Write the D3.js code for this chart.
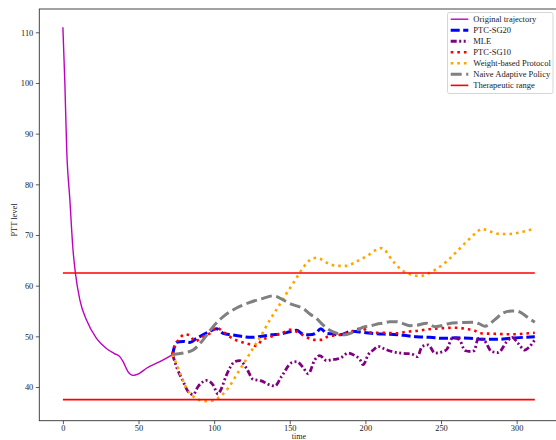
<!DOCTYPE html>
<html>
<head>
<meta charset="utf-8">
<script src="https://cdn.jsdelivr.net/npm/d3@7"></script>
<style>
  html, body { margin: 0; padding: 0; background: #fff; }
  svg { display: block; }
  text { font-family: "Liberation Serif", "DejaVu Serif", serif; fill: #222; }
</style>
</head>
<body>
<svg id="chart" width="556" height="440"></svg>
<script>
// PTT level over time: original trajectory, then each dosing policy from t≈72
const originalTrajectory = [[0,111],[1.3,100],[2.5,87],[4.6,77],[6.7,67],[8.3,62.4],[11.2,57.2],[15.6,53.2],[22.2,49.6],[28.8,47.6],[34,46.6],[37.6,46.0],[39.8,45.0],[43.1,43.0],[46.4,42.3],[50,42.6],[55.3,43.7],[64.1,45],[72.5,46.4]];

const ptcSg20 = [[72.5,46.4],[75,48.8],[79.5,49.0],[83.9,48.8],[88.4,49.6],[92,50.2],[96,50.8],[101.6,51.5],[106,50.6],[111.5,50.3],[118,50.0],[124.7,49.8],[131.3,50.0],[138,50.3],[144.6,50.5],[150,50.9],[154.5,51.2],[158.9,50.4],[163,50.3],[167,50.6],[170.5,51.5],[174.3,50.6],[178,50.5],[183.1,50.3],[190.9,51.0],[198.5,50.8],[207.4,50.5],[216.2,50.4],[225,50.2],[233.9,49.9],[242.7,49.8],[251.5,49.6],[260.3,49.7],[269.1,49.6],[277.9,49.4],[286.8,49.4],[295.6,49.6],[304.4,49.8],[312,49.9]];

const mle = [[72.5,46.4],[75.1,44],[79.5,41.1],[82.8,39.1],[86.1,38.5],[89.4,40.1],[92.5,41.0],[95,41.3],[99.3,40.4],[102.6,38.6],[104.5,39.5],[108.2,42.4],[113.7,45.0],[117,45.2],[121.4,43.7],[125.8,41.5],[131.3,41.2],[136.8,40.4],[140.1,40.2],[144.6,42.1],[151.2,44.8],[154.5,45.0],[158.9,43.8],[162.2,42.6],[166.6,45.4],[169.9,46.2],[174.3,45.2],[178,45.4],[181,45.5],[184,45.8],[188.6,46.7],[193,46.2],[196.4,45.4],[198.5,44.4],[201.9,46.4],[205.2,47.3],[208.5,48.0],[212,47.6],[216.2,47.1],[220.6,46.8],[227.2,46.6],[230.6,46.5],[234.4,46.0],[237.5,48.0],[241.5,48.3],[246,46.7],[251.5,47.0],[254,47.5],[257.5,49.7],[262,49.4],[265.8,47.2],[270,47.0],[272,47.2],[274.6,49.6],[278.5,49.2],[283.5,47.0],[287.8,46.8],[293.4,48.9],[297,49.8],[301,48.6],[305.5,47.3],[308,47.8],[312,49.3]];

const ptcSg10 = [[72.5,46.4],[74,48],[77.3,49.6],[80.5,50.4],[84,50.2],[87.2,49.0],[90,49.4],[93,50.0],[97.2,50.6],[101.6,51.7],[106,50.9],[110,50.0],[114.8,49.2],[119,48.8],[123.6,48.4],[128,48.1],[131.3,49.2],[136,49.8],[141.3,50.3],[146,50.8],[150,51.3],[156.7,50.6],[160,50.0],[166.6,49.3],[171,49.3],[175.4,50.0],[183.1,50.3],[190.9,50.9],[197.5,51.6],[204.1,50.7],[211.8,50.7],[220.6,50.6],[227.2,50.9],[234.9,51.1],[241.5,51.4],[250.4,51.6],[259.2,51.7],[268,51.4],[272.4,51.1],[275.7,50.6],[285.6,50.5],[296.7,50.4],[307.7,50.6],[312,50.7]];

const weightBased = [[72.5,46.4],[76.2,43.7],[80.6,40.4],[83.9,38.8],[88.4,37.7],[93.8,37.2],[99.3,37.3],[103.8,38.1],[109.3,39.8],[114.8,42.4],[120.3,45.0],[125.8,47.7],[131.3,50.3],[136.8,53.2],[142.3,55.8],[147.9,58.5],[152.3,60.5],[156.7,62.6],[161.1,64.4],[164.5,65.3],[167.5,65.5],[170,65.3],[175.4,64.4],[181,63.9],[187.6,63.9],[194.2,64.8],[200.8,65.8],[207.4,67.1],[210.5,67.4],[213,67.0],[215.1,66.1],[219.5,64.4],[225,62.9],[231.6,62.1],[236,61.9],[241.5,62.4],[247.1,63.3],[253.7,64.8],[260.3,66.7],[266.9,68.7],[273.5,70.5],[276.8,71.2],[282.3,70.7],[289,70.2],[295.6,70.2],[302.2,70.5],[309.9,71.1],[312,71.3]];

const naiveAdaptive = [[72.5,46.4],[79.5,46.7],[86.1,47.3],[92.7,49.3],[99.3,51.9],[106,53.9],[114.8,55.6],[123.6,56.7],[132.4,57.5],[139,58.0],[145.6,57.2],[150,56.5],[154.5,56.0],[158.9,55.5],[163.3,54.4],[167.7,53.5],[172.1,52.2],[176.5,51.2],[181,50.6],[186.4,50.3],[190,50.6],[194.2,51.1],[198.5,51.8],[203,52.0],[207.4,52.4],[211.8,52.6],[216.2,52.9],[220.6,52.9],[224,52.6],[229.4,52.1],[234,52.2],[240.5,52.6],[246,51.9],[250,52.1],[254.8,52.5],[263.6,52.7],[271.3,52.8],[275,52.5],[279,52.0],[285.6,53.3],[291.1,54.6],[296.7,55.0],[300,55.0],[303.3,54.6],[307,53.8],[312,52.8]];

const rangeLow = [[0,37.5],[312,37.5]];
const rangeHigh = [[0,62.5],[312,62.5]];

const xTicks = [0, 50, 100, 150, 200, 250, 300];
const yTicks = [40, 50, 60, 70, 80, 90, 100, 110];

const seriesNames = ["Original trajectory", "PTC-SG20", "MLE", "PTC-SG10", "Weight-based Protocol", "Naive Adaptive Policy", "Therapeutic range"];

// styling for each series, in drawing / legend order
const styles = [
  { color: "#bf00bf", width: 1.4, dash: null },
  { color: "#0000ff", width: 3, dash: "9,3.5" },
  { color: "#800080", width: 2.8, dash: "6,2.5,2,2.5,2,2.5" },
  { color: "#ff0000", width: 2.6, dash: "2.6,4" },
  { color: "#ffa500", width: 2.6, dash: "2.6,4" },
  { color: "#808080", width: 3, dash: "11,4.5" },
  { color: "#ff0000", width: 1.6, dash: null }
];
const seriesData = [originalTrajectory, ptcSg20, mle, ptcSg10, weightBased, naiveAdaptive];

const svg = d3.select("#chart");
const plotLeft = 39.3, plotRight = 558.4, plotTop = 9, plotBottom = 420.7;

const x = d3.scaleLinear().domain([-15.6, 327.6]).range([plotLeft, plotRight]);
const y = d3.scaleLinear().domain([33.35, 114.6]).range([plotBottom, plotTop]);

svg.append("defs").append("clipPath").attr("id", "plotArea")
  .append("rect").attr("x", plotLeft).attr("y", plotTop)
  .attr("width", plotRight - plotLeft).attr("height", plotBottom - plotTop);

const line = d3.line().x(d => x(d[0])).y(d => y(d[1])).curve(d3.curveMonotoneX);

const plot = svg.append("g").attr("clip-path", "url(#plotArea)");

seriesData.forEach((data, i) => {
  const s = styles[i];
  plot.append("path")
    .datum(data)
    .attr("d", line)
    .attr("fill", "none")
    .attr("stroke", s.color)
    .attr("stroke-width", s.width)
    .attr("stroke-dasharray", s.dash)
    .attr("stroke-linejoin", "round");
});

[rangeLow, rangeHigh].forEach(data => {
  plot.append("path")
    .datum(data)
    .attr("d", line)
    .attr("fill", "none")
    .attr("stroke", styles[6].color)
    .attr("stroke-width", styles[6].width);
});

// axes
const xAxis = d3.axisBottom(x).tickValues(xTicks).tickSize(3.5).tickPadding(1.3).tickFormat(d3.format("d"));
const yAxis = d3.axisLeft(y).tickValues(yTicks).tickSize(3.5).tickPadding(2.5).tickFormat(d3.format("d"));

const gx = svg.append("g").attr("transform", `translate(0,${plotBottom})`).call(xAxis);
const gy = svg.append("g").attr("transform", `translate(${plotLeft},0)`).call(yAxis);
[gx, gy].forEach(g => {
  g.select(".domain").remove();
  g.selectAll(".tick line").attr("stroke", "#333").attr("stroke-width", 0.8);
  g.selectAll(".tick text").attr("font-size", 8.4).attr("fill", "#222")
    .style("font-family", "'Liberation Serif', 'DejaVu Serif', serif");
});

// frame
svg.append("rect")
  .attr("x", plotLeft).attr("y", plotTop)
  .attr("width", plotRight - plotLeft).attr("height", plotBottom - plotTop)
  .attr("fill", "none").attr("stroke", "#333").attr("stroke-width", 0.9);

// axis titles
svg.append("text")
  .attr("x", (plotLeft + plotRight) / 2).attr("y", 439)
  .attr("text-anchor", "middle").attr("font-size", 8)
  .text("time");

svg.append("text")
  .attr("transform", `translate(15,220) rotate(-90)`)
  .attr("text-anchor", "middle").attr("font-size", 8.4)
  .attr("dominant-baseline", "middle")
  .text("PTT level");

// legend
const legend = svg.append("g");
legend.append("rect")
  .attr("x", 447.5).attr("y", 12.5)
  .attr("width", 105.5).attr("height", 81)
  .attr("rx", 2)
  .attr("fill", "#fff").attr("fill-opacity", 0.85)
  .attr("stroke", "#cccccc").attr("stroke-width", 0.8);

seriesNames.forEach((name, i) => {
  const s = styles[i];
  const cy = 19.2 + i * 11.03;
  legend.append("line")
    .attr("x1", 450.7).attr("x2", 468.3)
    .attr("y1", cy).attr("y2", cy)
    .attr("stroke", s.color)
    .attr("stroke-width", s.width)
    .attr("stroke-dasharray", s.dash);
  legend.append("text")
    .attr("x", 473.3).attr("y", cy)
    .attr("dominant-baseline", "central")
    .attr("font-size", 8.5)
    .text(name);
});
</script>
</body>
</html>
